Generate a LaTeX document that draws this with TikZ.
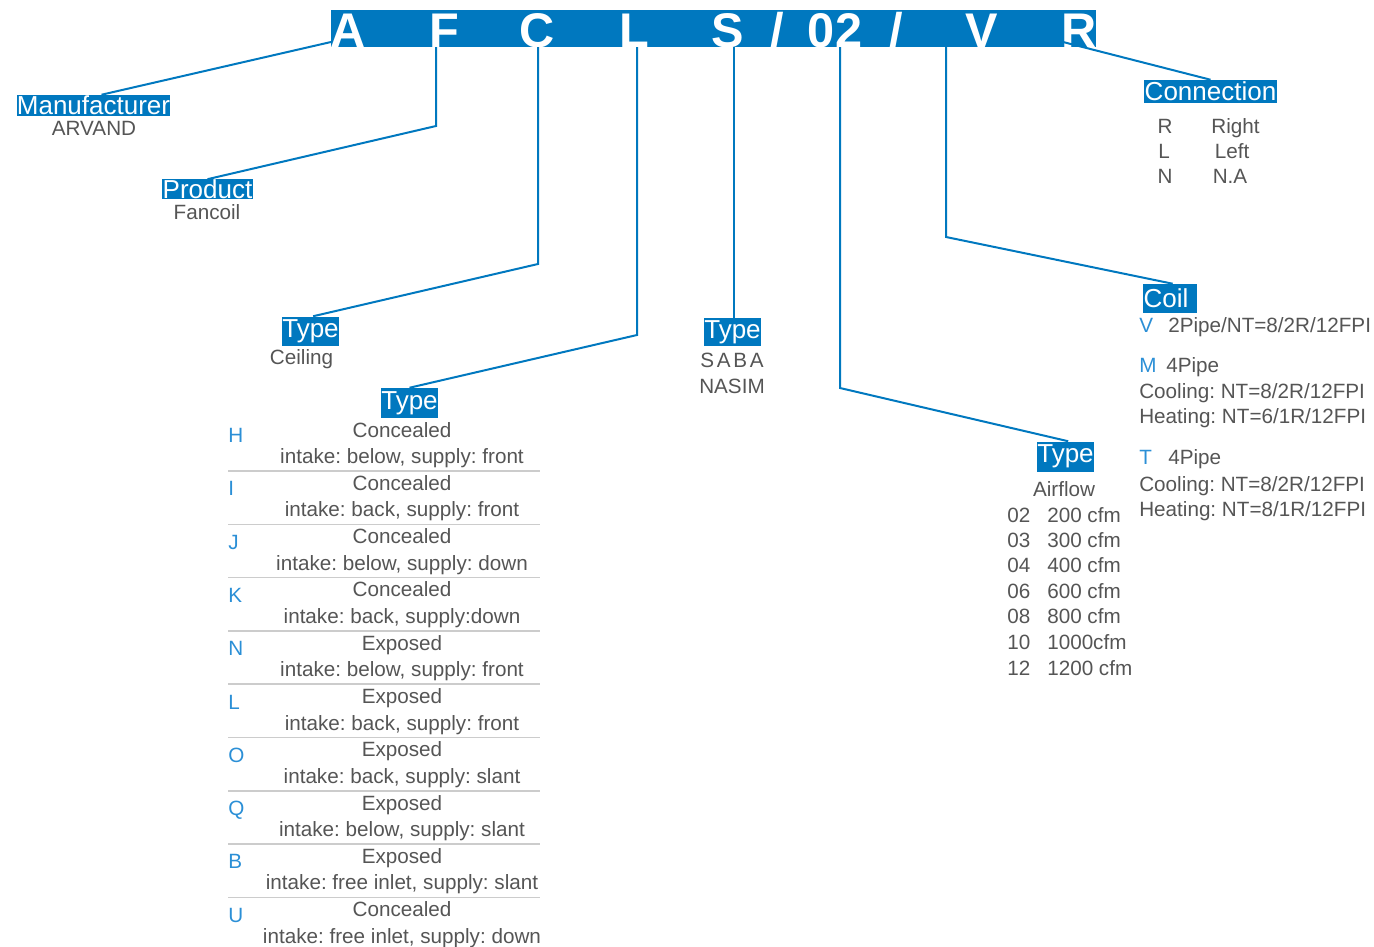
\documentclass[tikz,border=0pt]{standalone}
\usepackage{fontspec}
\setmainfont{Liberation Sans}
\definecolor{abl}{HTML}{0078BF}
\definecolor{ltbl}{HTML}{2B8FD6}
\definecolor{txt}{HTML}{555555}
\definecolor{sepc}{HTML}{CCCCCC}
\frenchspacing
\begin{document}
\begin{tikzpicture}[x=0.75pt,y=-0.75pt,
  conn/.style={draw=abl,line width=1.5pt},
  lbl/.style={fill=abl,text=white,inner sep=0pt,font=\fontsize{19.5}{20}\selectfont},
  body/.style={text=txt,inner sep=0pt,font=\fontsize{15.5}{16}\selectfont},
  code/.style={text=ltbl,inner sep=0pt,font=\fontsize{15.5}{16}\selectfont},
  big/.style={text=white,inner sep=0pt,font=\fontsize{36.5}{37}\selectfont\bfseries,anchor=base},
  sepl/.style={draw=sepc,line width=1.1pt}
]
\useasboundingbox (0,0) rectangle (1374,946);

% header bar
\node (bar) [fill=abl,inner sep=0pt,minimum width=573.75pt,minimum height=27.75pt] at (713.5,28.5) {};
\node[big] (hA) at (348,47) {A};
\node[big] (hF) at (444,47) {F};
\node[big] (hC) at (537,47) {C};
\node[big] (hL) at (634,47) {L};
\node[big] (hS) at (728,47) {S};
\node[big] (hs1) at (777,47) {/};
\node[big] (h02) at (835,47) {02};
\node[big] (hs2) at (896,47) {/};
\node[big] (hV) at (982,47) {V};
\node[big] (hR) at (1079,47) {R};

% labels
\node[lbl,minimum width=114.75pt,minimum height=15.75pt] (manu) at (93.5,105.5) {Manufacturer};
\node[lbl,minimum width=68.25pt,minimum height=14.25pt] (prod) at (207.5,189) {Product};
\node[lbl,minimum width=39.75pt,minimum height=21.75pt] (typeC) at (310.5,331) {Type};
\node[lbl,minimum width=39.75pt,minimum height=22.5pt] (typeL) at (409.5,403) {Type};
\node[lbl,minimum width=39.75pt,minimum height=21pt] (typeS) at (732.5,332) {Type};
\node[lbl,minimum width=39.75pt,minimum height=22.5pt] (type02) at (1065.5,456.5) {Type};
\node[lbl,text width=40.5pt,align=left,minimum height=21.75pt] (coil) at (1170,298.5) {\kern0.5pt Coil};
\node[lbl,minimum width=99.75pt,minimum height=17.25pt] (connl) at (1210.5,91.5) {Connection};

% connector points
\coordinate (sA) at (331,42);
\coordinate (sF) at (436,47);  \coordinate (bF) at (436,126);
\coordinate (sC) at (538,47);  \coordinate (bC) at (538,264);
\coordinate (sL) at (637,47);  \coordinate (bL) at (637,335);
\coordinate (sS) at (734,47);
\coordinate (s02) at (840,47); \coordinate (b02) at (840,388);
\coordinate (sV) at (946,47);  \coordinate (bV) at (946,237);
\coordinate (sR) at (1063,42);

\draw[conn] (sA) -- ([xshift=6pt]manu.north);
\draw[conn] (sF) -- (bF) -- (prod.north);
\draw[conn] (sC) -- (bC) -- ([xshift=2pt]typeC.north);
\draw[conn] (sL) -- (bL) -- (typeL.north);
\draw[conn] (sS) -- (sS |- typeS.north);
\draw[conn] (s02) -- (b02) -- ([xshift=2pt]type02.north);
\draw[conn] (sV) -- (bV) -- ([xshift=2pt]coil.north);
\draw[conn] (sR) -- (connl.north);

% simple values
\node[body,anchor=base] (arv) at (94,135) {ARVAND};
\node[body,anchor=base] (fan) at (207,219) {Fancoil};
\node[body,anchor=base] (ceil) at (301.5,364) {Ceiling};
\node[body,anchor=base] (saba) at (732,367) {S\kern2pt A\kern2pt B\kern2pt A};
\node[body,anchor=base] (nasim) at (732,393) {NASIM};

% connection table
\node[body,anchor=base] (cR) at (1165,133) {R};
\node[body,anchor=base] (cRt) at (1235.5,133) {Right};
\node[body,anchor=base] (cL) at (1164,158) {L};
\node[body,anchor=base] (cLt) at (1232,158) {Left};
\node[body,anchor=base] (cN) at (1165,183) {N};
\node[body,anchor=base] (cNt) at (1230,183) {N.A};

% coil table
\node[code,anchor=base west] (kV) at (1139,332) {V};
\node[body,anchor=base west] (kVt) at (1168,332) {2Pipe/NT=8/2R/12FPI};
\node[code,anchor=base west] (kM) at (1139,372) {M};
\node[body,anchor=base west] (kMt) at (1166,372) {4Pipe};
\node[body,anchor=base west] (kM1) at (1139,398) {Cooling: NT=8/2R/12FPI};
\node[body,anchor=base west] (kM2) at (1139,423) {Heating: NT=6/1R/12FPI};
\node[code,anchor=base west] (kT) at (1139,464) {T};
\node[body,anchor=base west] (kTt) at (1168,464) {4Pipe};
\node[body,anchor=base west] (kT1) at (1139,491) {Cooling: NT=8/2R/12FPI};
\node[body,anchor=base west] (kT2) at (1139,516) {Heating: NT=8/1R/12FPI};

% airflow table
\node[body,anchor=base] (air) at (1064,496) {Airflow};
\foreach \a/\b/\y [count=\i] in {02/200 cfm/522,03/300 cfm/547,04/400 cfm/572,06/600 cfm/598,08/800 cfm/623,10/1000cfm/649,12/1200 cfm/675}{
  \node[body,anchor=base west] (af\i) at (1007,\y) {\a};
  \node[body,anchor=base west] (av\i) at (1047,\y) {\b};
}

% type list
\foreach \c/\a/\b [count=\i from 0] in {
  H/Concealed/{intake: below, supply: front},
  I/Concealed/{intake: back, supply: front},
  J/Concealed/{intake: below, supply: down},
  K/Concealed/{intake: back, supply:down},
  N/Exposed/{intake: below, supply: front},
  L/Exposed/{intake: back, supply: front},
  O/Exposed/{intake: back, supply: slant},
  Q/Exposed/{intake: below, supply: slant},
  B/Exposed/{intake: free inlet, supply: slant},
  U/Concealed/{intake: free inlet, supply: down}}{
  \node[code,anchor=base west] (tc\i) at (228,{442.5+53.3*\i}) {\c};
  \node[body,anchor=base] (ta\i) at (402,{437+53.3*\i}) {\a};
  \node[body,anchor=base] (tb\i) at (402,{463.5+53.3*\i}) {\b};
}
\foreach \i in {0,...,8}{
  \draw[sepl] (228,{471+53.3*\i}) -- (540,{471+53.3*\i});
}
\end{tikzpicture}
\end{document}
